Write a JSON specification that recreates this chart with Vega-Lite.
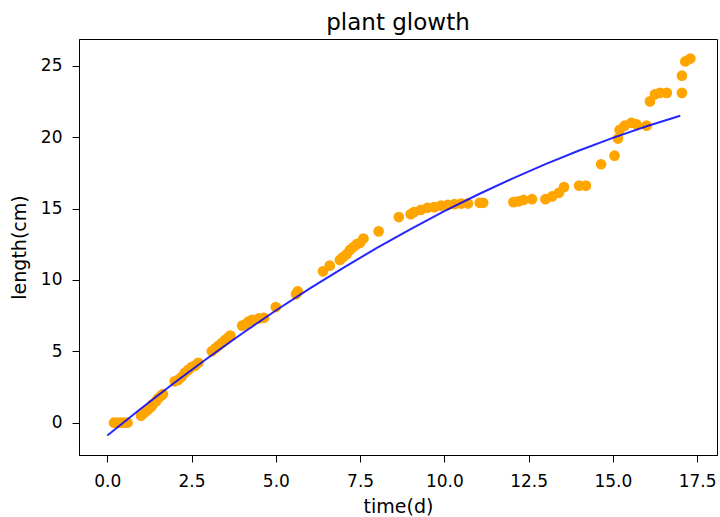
{
  "$schema": "https://vega.github.io/schema/vega-lite/v6.json",
  "width": 638,
  "height": 416,
  "autosize": "none",
  "padding": {"left": 79, "top": 39, "right": 3, "bottom": 62},
  "title": {
    "text": "plant glowth",
    "fontSize": 23,
    "fontWeight": "normal",
    "color": "#000000",
    "baseline": "bottom",
    "offset": 2,
    "dy": 21
  },
  "datasets": {
    "points": [
      {"time": 0.2, "length": 0}, {"time": 0.3, "length": 0}, {"time": 0.4, "length": 0},
      {"time": 0.5, "length": 0}, {"time": 0.6, "length": 0},
      {"time": 1.0, "length": 0.5}, {"time": 1.1, "length": 0.7}, {"time": 1.2, "length": 0.9},
      {"time": 1.3, "length": 1.1}, {"time": 1.35, "length": 1.3}, {"time": 1.45, "length": 1.5},
      {"time": 1.5, "length": 1.7}, {"time": 1.6, "length": 1.9}, {"time": 1.65, "length": 2.0},
      {"time": 2.0, "length": 2.9}, {"time": 2.1, "length": 3.0}, {"time": 2.2, "length": 3.2},
      {"time": 2.3, "length": 3.5}, {"time": 2.4, "length": 3.7}, {"time": 2.5, "length": 3.9},
      {"time": 2.6, "length": 4.0}, {"time": 2.7, "length": 4.2},
      {"time": 3.1, "length": 5.0}, {"time": 3.2, "length": 5.2}, {"time": 3.3, "length": 5.4},
      {"time": 3.4, "length": 5.6}, {"time": 3.5, "length": 5.8}, {"time": 3.6, "length": 6.0},
      {"time": 3.65, "length": 6.1},
      {"time": 4.0, "length": 6.8}, {"time": 4.1, "length": 6.9}, {"time": 4.2, "length": 7.1},
      {"time": 4.3, "length": 7.2}, {"time": 4.5, "length": 7.3}, {"time": 4.65, "length": 7.35},
      {"time": 5.0, "length": 8.1}, {"time": 5.6, "length": 9.0}, {"time": 5.65, "length": 9.2},
      {"time": 6.4, "length": 10.6}, {"time": 6.6, "length": 11.0},
      {"time": 6.9, "length": 11.4}, {"time": 7.0, "length": 11.6}, {"time": 7.1, "length": 11.8},
      {"time": 7.2, "length": 12.1}, {"time": 7.3, "length": 12.3}, {"time": 7.4, "length": 12.5},
      {"time": 7.5, "length": 12.6}, {"time": 7.6, "length": 12.9},
      {"time": 8.05, "length": 13.4}, {"time": 8.65, "length": 14.4},
      {"time": 9.0, "length": 14.6}, {"time": 9.1, "length": 14.75}, {"time": 9.3, "length": 14.9},
      {"time": 9.5, "length": 15.05}, {"time": 9.7, "length": 15.1}, {"time": 9.9, "length": 15.2},
      {"time": 10.1, "length": 15.25}, {"time": 10.3, "length": 15.3}, {"time": 10.5, "length": 15.35},
      {"time": 10.7, "length": 15.35}, {"time": 11.05, "length": 15.4}, {"time": 11.15, "length": 15.4},
      {"time": 12.05, "length": 15.45}, {"time": 12.2, "length": 15.5}, {"time": 12.35, "length": 15.6},
      {"time": 12.6, "length": 15.65}, {"time": 13.0, "length": 15.65}, {"time": 13.2, "length": 15.85},
      {"time": 13.4, "length": 16.1}, {"time": 13.55, "length": 16.5}, {"time": 14.0, "length": 16.6},
      {"time": 14.2, "length": 16.6}, {"time": 14.65, "length": 18.1}, {"time": 15.05, "length": 18.7},
      {"time": 15.15, "length": 19.9}, {"time": 15.2, "length": 20.5}, {"time": 15.35, "length": 20.8},
      {"time": 15.55, "length": 21.0}, {"time": 15.7, "length": 20.9}, {"time": 16.0, "length": 20.8},
      {"time": 16.1, "length": 22.5}, {"time": 16.25, "length": 23.0}, {"time": 16.4, "length": 23.1},
      {"time": 16.6, "length": 23.1}, {"time": 17.05, "length": 23.1}, {"time": 17.05, "length": 24.3},
      {"time": 17.15, "length": 25.3}, {"time": 17.3, "length": 25.5}
    ],
    "fit": [
      {"time": 0, "length": -0.9}, {"time": 1, "length": 1.0}, {"time": 2, "length": 2.82},
      {"time": 3, "length": 4.57}, {"time": 4, "length": 6.25}, {"time": 5, "length": 7.86},
      {"time": 6, "length": 9.39}, {"time": 7, "length": 10.85}, {"time": 8, "length": 12.24},
      {"time": 9, "length": 13.56}, {"time": 10, "length": 14.81}, {"time": 11, "length": 15.98},
      {"time": 12, "length": 17.08}, {"time": 13, "length": 18.11}, {"time": 14, "length": 19.06},
      {"time": 15, "length": 19.95}, {"time": 16, "length": 20.76}, {"time": 17, "length": 21.5}
    ]
  },
  "encoding": {
    "x": {
      "field": "time",
      "type": "quantitative",
      "title": "time(d)",
      "scale": {"domain": [-0.84, 18.09], "nice": false, "zero": false},
      "axis": {
        "values": [0, 2.5, 5, 7.5, 10, 12.5, 15, 17.5],
        "format": ".1f",
        "labelPadding": 11,
        "titlePadding": 8
      }
    },
    "y": {
      "field": "length",
      "type": "quantitative",
      "title": "length(cm)",
      "scale": {"domain": [-2.26, 26.87], "nice": false, "zero": false},
      "axis": {
        "values": [0, 5, 10, 15, 20, 25],
        "format": "d",
        "labelPadding": 10,
        "titlePadding": 11
      }
    }
  },
  "layer": [
    {
      "data": {"name": "points"},
      "mark": {"type": "circle", "color": "#FFA500", "opacity": 1, "size": 115}
    },
    {
      "data": {"name": "fit"},
      "mark": {"type": "line", "color": "#0000ff", "strokeWidth": 2, "opacity": 0.85}
    }
  ],
  "config": {
    "font": "DejaVu Sans",
    "view": {"stroke": "#000000", "strokeWidth": 1},
    "axis": {
      "grid": false,
      "domainColor": "#000000",
      "tickColor": "#000000",
      "tickSize": 7,
      "labelColor": "#000000",
      "titleColor": "#000000",
      "labelFontSize": 17,
      "titleFontSize": 19,
      "titleFontWeight": "normal",
      "labelFlush": false
    }
  }
}
